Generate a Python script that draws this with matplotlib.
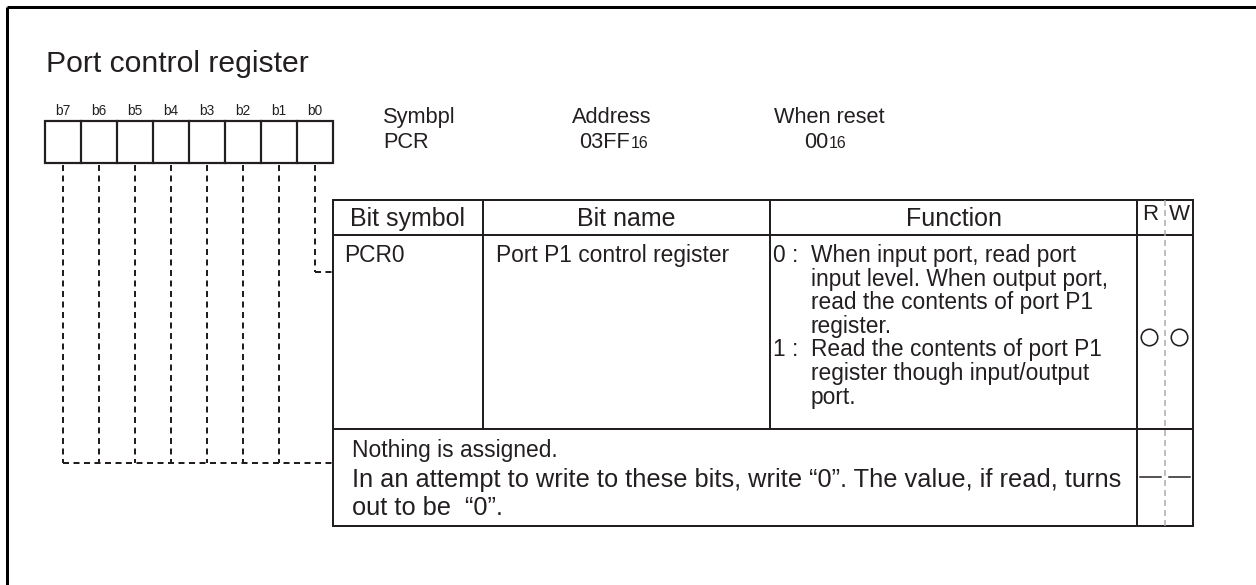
import matplotlib
matplotlib.use("Agg")
import matplotlib.pyplot as plt
from matplotlib.lines import Line2D

plt.rcParams['font.family'] = ['Liberation Sans', 'DejaVu Sans']
plt.rcParams['lines.scale_dashes'] = False

# ---- content ----
title = "Port control register"
bit_labels = ["b7", "b6", "b5", "b4", "b3", "b2", "b1", "b0"]
info_titles = ["Symbpl", "Address", "When reset"]
info_values = ["PCR", "03FF", "00"]
info_subs = ["", "16", "16"]
headers = ["Bit symbol", "Bit name", "Function", "R", "W"]
row_symbol = "PCR0"
row_name = "Port P1 control register"
func_prefixes = ["0 :", "1 :"]
func_lines = [
    ["When input port, read port", "input level. When output port,",
     "read the contents of port P1", "register."],
    ["Read the contents of port P1", "register though input/output", "port."],
]
row_rw = ["circle", "circle"]
note_first = "Nothing is assigned."
note_rest = ["In an attempt to write to these bits, write \u201c0\u201d. The value, if read, turns",
             "out to be  \u201c0\u201d."]
note_rw = ["dash", "dash"]

# ---- layout (pixels, y downward) ----
W, H = 1256, 585
ink = '#231f20'
fig = plt.figure(figsize=(W / 100, H / 100), dpi=100)
ax = fig.add_axes([0, 0, 1, 1])
ax.set_xlim(0, W)
ax.set_ylim(H, 0)
ax.axis('off')

def px(v):
    return v * 0.72

# outer frame
ax.plot([6.5, W + 5], [6.5, 6.5], color='black', lw=px(3), solid_capstyle='butt')
ax.plot([6.5, 6.5], [6.5, H + 5], color='black', lw=px(3), solid_capstyle='butt')

ax.text(46, 72, title, fontsize=21.7, color=ink, va='baseline', ha='left')

# bit boxes
box_x0, cell_w, box_y0, box_y1 = 45, 36, 121, 163
n = len(bit_labels)
for i, lab in enumerate(bit_labels):
    cx = box_x0 + cell_w * (i + 0.5)
    ax.text(cx, 115, lab, fontsize=9.8, color=ink, ha='center', va='baseline')
ax.add_patch(plt.Rectangle((box_x0, box_y0), cell_w * n, box_y1 - box_y0,
                           fill=False, ec=ink, lw=px(2.2)))
for i in range(1, n):
    x = box_x0 + cell_w * i
    ax.plot([x, x], [box_y0, box_y1], color=ink, lw=px(2.2))

# table geometry
tx = [333, 483, 770, 1137, 1193]
rw_mid = 1165
ty = [200, 235, 429, 526]

# dashed leader lines
dash = dict(color=ink, lw=px(2), dashes=(px(6), px(4.5)))
row1_y = 272
row2_y = 463
for i in range(n):
    cx = box_x0 + cell_w * (i + 0.5)
    yend = row1_y if i == n - 1 else row2_y
    ax.plot([cx, cx], [165, yend], **dash)
ax.plot([box_x0 + cell_w * (n - 0.5), tx[0]], [row1_y, row1_y], **dash)
ax.plot([box_x0 + cell_w * 0.5, tx[0]], [row2_y, row2_y], **dash)

# info block
ax.text(383, 123, info_titles[0], fontsize=15.7, color=ink, va='baseline', ha='left')
ax.text(383, 148, info_values[0], fontsize=15.7, color=ink, va='baseline', ha='left')
ax.text(612, 123, info_titles[1], fontsize=15.7, color=ink, va='baseline', ha='center')
ax.text(630, 148, info_values[1], fontsize=15.7, color=ink, va='baseline', ha='right')
ax.text(631, 148, info_subs[1], fontsize=11.5, color=ink, va='baseline', ha='left')
ax.text(774, 123, info_titles[2], fontsize=15.7, color=ink, va='baseline', ha='left')
ax.text(828, 148, info_values[2], fontsize=15.7, color=ink, va='baseline', ha='right')
ax.text(829, 148, info_subs[2], fontsize=11.5, color=ink, va='baseline', ha='left')

# table lines
lw_t = px(2)
ax.add_patch(plt.Rectangle((tx[0], ty[0]), tx[-1] - tx[0], ty[-1] - ty[0],
                           fill=False, ec=ink, lw=lw_t))
for y in ty[1:3]:
    ax.plot([tx[0], tx[-1]], [y, y], color=ink, lw=lw_t)
for x in tx[1:3]:
    ax.plot([x, x], [ty[0], ty[2]], color=ink, lw=lw_t)
ax.plot([tx[3], tx[3]], [ty[0], ty[3]], color=ink, lw=lw_t)
ax.plot([rw_mid, rw_mid], [ty[0], ty[3]], color='#aaaaaa', lw=px(1.5),
        dashes=(px(6), px(4)))

# headers
hdr_fs = 18
for j in range(3):
    ax.text((tx[j] + tx[j + 1]) / 2, 226, headers[j], fontsize=hdr_fs,
            color=ink, ha='center', va='baseline')
r_cx = (tx[3] + rw_mid) / 2
w_cx = (rw_mid + tx[4]) / 2
ax.text(r_cx - 1, 220, headers[3], fontsize=16, color=ink, ha='center', va='baseline')
ax.text(w_cx, 220, headers[4], fontsize=16, color=ink, ha='center', va='baseline')

# row 1
body = 16.4
ax.text(344, 262, row_symbol, fontsize=body, color=ink, va='baseline', ha='left')
ax.text(496, 262, row_name, fontsize=body, color=ink, va='baseline', ha='left')
y = 262
step = 23.6
for pre, lines in zip(func_prefixes, func_lines):
    ax.text(773, y, pre, fontsize=body, color=ink, va='baseline', ha='left')
    for ln in lines:
        ax.text(811, y, ln, fontsize=body, color=ink, va='baseline', ha='left')
        y += step
for cx, kind in zip([r_cx - 2.5, w_cx - 0.5], row_rw):
    if kind == "circle":
        ax.add_line(Line2D([cx], [337], marker='o', ms=px(16.5), mfc='none',
                           mec=ink, mew=px(1.6), ls='none'))

# row 2
ax.text(352, 457, note_first, fontsize=body, color=ink, va='baseline', ha='left')
for k, ln in enumerate(note_rest):
    ax.text(352, 486.5 + 28.5 * k, ln, fontsize=18.3, color=ink, va='baseline', ha='left')
for cx, kind in zip([r_cx - 0.5, w_cx + 0.5], note_rw):
    if kind == "dash":
        ax.plot([cx - 10.5, cx + 10.5], [477, 477], color=ink, lw=px(1.5))

fig.savefig("out.png", dpi=100)
